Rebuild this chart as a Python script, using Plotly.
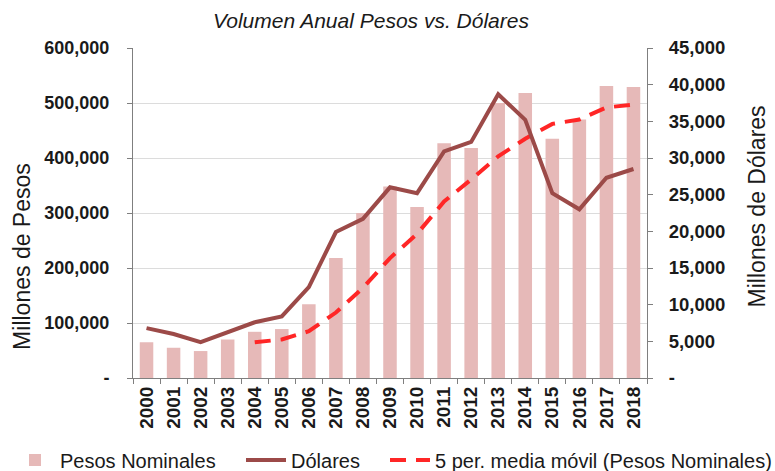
import plotly.graph_objects as go

years = [str(y) for y in range(2000, 2019)]
pesos = [65000, 55000, 49000, 70000, 84000, 89000, 134000, 218000, 300000, 348000,
         311000, 427000, 418000, 500000, 518000, 435000, 470000, 531000, 529000]
dolares = [6800, 6000, 4900, 6300, 7600, 8400, 12400, 19900, 21700, 26000,
           25200, 30900, 32200, 38700, 35200, 25200, 23000, 27300, 28500]
media_movil = [None, None, None, None, 65000, 70000, 85000, 119000, 164000, 218000,
               262000, 321000, 361000, 403000, 435000, 462000, 470000, 492000, 497000]

left_ticks = [0, 100000, 200000, 300000, 400000, 500000, 600000]
left_labels = ["-", "100,000", "200,000", "300,000", "400,000", "500,000", "600,000"]
right_ticks = [0, 5000, 10000, 15000, 20000, 25000, 30000, 35000, 40000, 45000]
right_labels = ["-", "5,000", "10,000", "15,000", "20,000", "25,000", "30,000",
                "35,000", "40,000", "45,000"]

FONT = "Liberation Sans, Arial, sans-serif"
W, H = 775, 471

fig = go.Figure()
fig.add_trace(go.Bar(x=years, y=pesos, name="Pesos Nominales", legend="legend",
                     marker=dict(color="#E6B9B8", line=dict(width=0))))
fig.add_trace(go.Scatter(x=years, y=dolares, name="Dólares", yaxis="y2", legend="legend2",
                         mode="lines", line=dict(color="#9C4A48", width=4)))
fig.add_trace(go.Scatter(x=years, y=media_movil, name="5 per. media móvil (Pesos Nominales)",
                         legend="legend3",
                         mode="lines", line=dict(color="#FF2626", width=4, dash="16px,10px")))


def leg(px):
    return dict(orientation="h", xref="container", x=px / W, xanchor="left",
                yref="container", y=1 - 460 / H, yanchor="middle",
                font=dict(size=20, color="#1a1a1a"), itemwidth=40,
                bgcolor="rgba(0,0,0,0)", borderwidth=0)


fig.update_layout(
    width=W, height=H,
    margin=dict(l=133, r=128, t=48, b=93, autoexpand=False),
    paper_bgcolor="white", plot_bgcolor="white",
    font=dict(family=FONT, color="#1a1a1a"),
    bargap=0.5,
    showlegend=True,
    title=dict(text="<i>Volumen Anual Pesos vs. Dólares</i>", font=dict(size=21, color="#1a1a1a"),
               xref="paper", x=0.463, xanchor="center", yref="container", y=0.957, yanchor="middle"),
    legend=leg(10),
    legend2=leg(241),
    legend3=leg(385),
    xaxis=dict(type="category", tickson="boundaries", ticks="outside", ticklen=5,
               tickcolor="#7f7f7f", showline=True, linecolor="#7f7f7f", linewidth=1,
               tickangle=-90, automargin=False,
               tickfont=dict(size=19, family=FONT, weight="bold", color="#1a1a1a"),
               showgrid=False),
    yaxis=dict(range=[0, 600000], tickvals=left_ticks, ticktext=left_labels,
               ticks="outside", ticklen=5, tickcolor="#7f7f7f", showline=True,
               linecolor="#7f7f7f", linewidth=1, showgrid=True, gridcolor="#dcdcdc",
               gridwidth=1, zeroline=False, ticklabelstandoff=14, automargin=False,
               tickfont=dict(size=18, family=FONT, weight="bold", color="#1a1a1a")),
    yaxis2=dict(range=[0, 45000], tickvals=right_ticks, ticktext=right_labels,
                overlaying="y", side="right", ticks="outside", ticklen=5,
                tickcolor="#7f7f7f", showline=True, linecolor="#7f7f7f", linewidth=1,
                showgrid=False, zeroline=False, ticklabelstandoff=12, automargin=False,
                tickfont=dict(size=18.5, family=FONT, weight="bold", color="#1a1a1a")),
    annotations=[
        dict(text="Millones de Pesos", textangle=-90, xref="paper", yref="paper",
             x=-0.216, y=0.37, xanchor="center", yanchor="middle", showarrow=False,
             font=dict(size=23, color="#1a1a1a")),
        dict(text="Millones de Dólares", textangle=-90, xref="paper", yref="paper",
             x=1.214, y=0.52, xanchor="center", yanchor="middle", showarrow=False,
             font=dict(size=23, color="#1a1a1a")),
    ],
)

fig.write_html("out.html")
